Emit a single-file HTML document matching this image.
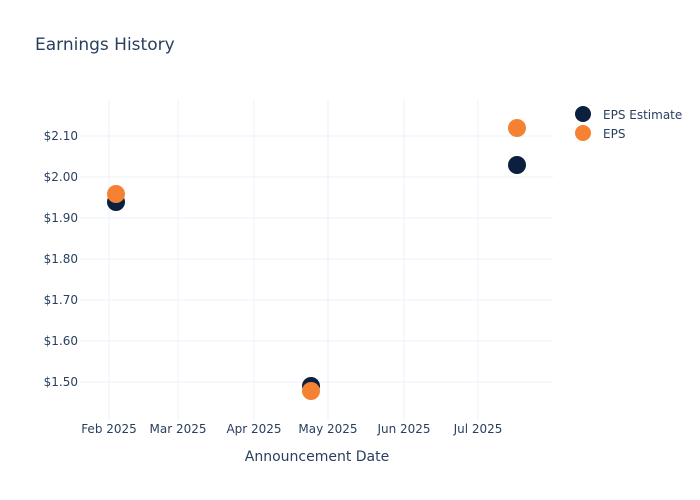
<!DOCTYPE html>
<html><head><style>
body{margin:0;background:#fff;}
svg{display:block;font-family:"DejaVu Sans","Liberation Sans",sans-serif;}
</style></head><body>
<svg width="700" height="500" viewBox="0 0 700 500">
<rect width="700" height="500" fill="#fff"/>
<g stroke="#ebf0f8" stroke-width="1">
<line x1="80" x2="553" y1="136" y2="136"/>
<line x1="80" x2="553" y1="177" y2="177"/>
<line x1="80" x2="553" y1="218" y2="218"/>
<line x1="80" x2="553" y1="259" y2="259"/>
<line x1="80" x2="553" y1="300" y2="300"/>
<line x1="80" x2="553" y1="341" y2="341"/>
<line x1="80" x2="553" y1="382" y2="382"/>
<line x1="109" x2="109" y1="100" y2="420"/>
<line x1="178" x2="178" y1="100" y2="420"/>
<line x1="254" x2="254" y1="100" y2="420"/>
<line x1="328" x2="328" y1="100" y2="420"/>
<line x1="404" x2="404" y1="100" y2="420"/>
<line x1="478" x2="478" y1="100" y2="420"/>
</g>
<text x="35" y="50" font-size="17" fill="#2a3f5f">Earnings History</text>
<g font-size="12" fill="#2a3f5f" text-anchor="end">
<text x="78" y="140">$2.10</text>
<text x="78" y="181">$2.00</text>
<text x="78" y="222">$1.90</text>
<text x="78" y="263">$1.80</text>
<text x="78" y="304">$1.70</text>
<text x="78" y="345">$1.60</text>
<text x="78" y="386">$1.50</text>
</g>
<g font-size="12" fill="#2a3f5f" text-anchor="middle">
<text x="109" y="433">Feb 2025</text>
<text x="178" y="433">Mar 2025</text>
<text x="254" y="433">Apr 2025</text>
<text x="328" y="433">May 2025</text>
<text x="404" y="433">Jun 2025</text>
<text x="478" y="433">Jul 2025</text>
</g>
<text x="317" y="461" font-size="14" fill="#2a3f5f" text-anchor="middle">Announcement Date</text>
<g fill="#0b1f3f">
<circle cx="116" cy="202" r="9"/>
<circle cx="311" cy="386" r="9"/>
<circle cx="517" cy="165" r="9"/>
</g>
<g fill="#f58233">
<circle cx="116" cy="194" r="9"/>
<circle cx="311" cy="391" r="9"/>
<circle cx="517" cy="128" r="9"/>
</g>
<circle cx="583" cy="114" r="8" fill="#0b1f3f"/>
<circle cx="583" cy="133" r="8" fill="#f58233"/>
<text x="603" y="119" font-size="12" fill="#2a3f5f">EPS Estimate</text>
<text x="603" y="138" font-size="12" fill="#2a3f5f">EPS</text>
</svg>
</body></html>
